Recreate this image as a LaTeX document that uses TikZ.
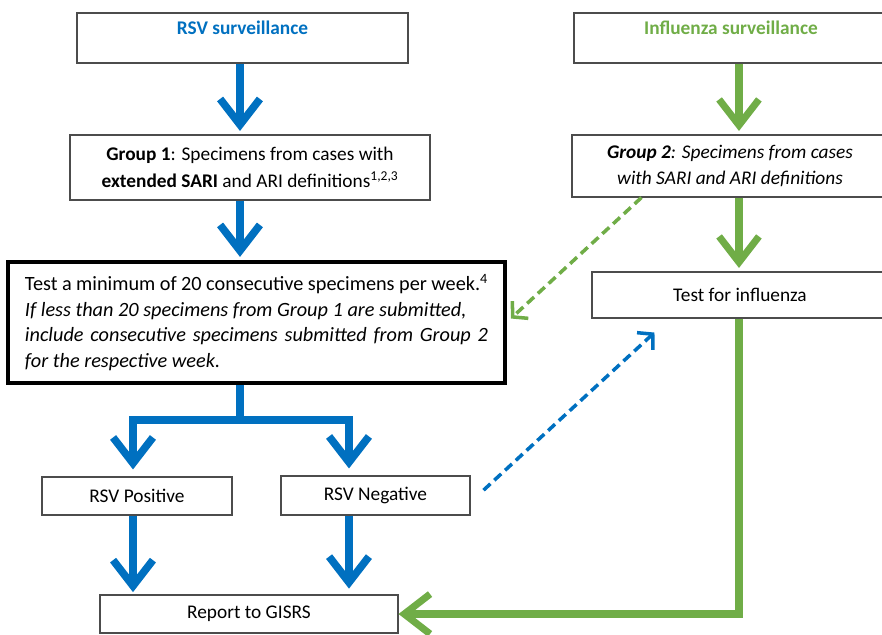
\documentclass[tikz,border=0pt]{standalone}
\usepackage{fontspec}
\setmainfont{Carlito}
\usetikzlibrary{arrows.meta}
\definecolor{rsvblue}{RGB}{0,112,192}
\definecolor{flugreen}{RGB}{112,173,71}
\newcommand{\boxfont}{\fontsize{16.5pt}{23pt}\selectfont}

\begin{document}
\begin{tikzpicture}[x=0.03cm, y=-0.03cm,
		box/.style={draw=black!70, line width=0.9pt, align=center, inner sep=0pt, font=\boxfont},
		bluearrow/.style={draw=rsvblue, line width=6.5pt, -{Straight Barb[length=22pt,width=34pt]}},
		blueline/.style={draw=rsvblue, line width=6.5pt},
		greenarrow/.style={draw=flugreen, line width=6pt, -{Straight Barb[length=22pt,width=34pt]}},
		bluedash/.style={draw=rsvblue, line width=3pt, dash pattern=on 8pt off 4.5pt, -{Straight Barb[length=9pt,width=20pt]}},
		greendash/.style={draw=flugreen, line width=3pt, dash pattern=on 8pt off 4.5pt, -{Straight Barb[length=9pt,width=20pt]}}]
			\useasboundingbox (0,0) rectangle (882,635);
			\node[box, minimum width=9.93cm, minimum height=1.5cm, text=rsvblue] (rsv) at (242.5,38) {\textbf{RSV surveillance}\\[-12pt] \strut};
			\node[box, minimum width=9.42cm, minimum height=1.5cm, text=flugreen] (flu) at (731,38) {\textbf{Influenza surveillance}\\[-12pt] \strut};
			\node[box, minimum width=10.8cm, minimum height=1.95cm] (grp1) at (250,167.5)
				{\textbf{Group 1}: Specimens from cases with\\ \textbf{extended SARI} and ARI definitions\textsuperscript{1,2,3}};
			\node[box, minimum width=9.48cm, minimum height=1.86cm, font=\boxfont\itshape] (grp2) at (730,166)
				{\textbf{Group 2}: Specimens from cases\\ with SARI and ARI definitions};
			\node[box, draw=black, line width=2.7pt, minimum width=14.91cm, minimum height=3.63cm,
				font=\fontsize{17.3pt}{22pt}\selectfont] (test) at (256.5,322.5)
				{\parbox{13.89cm}{Test a minimum of 20 consecutive specimens per week.\textsuperscript{4}\\
				\textit{If less than 20 specimens from Group 1 are submitted,}\\
				\makebox[\linewidth][s]{\itshape include consecutive specimens submitted from Group 2}\\
				\textit{for the respective week.}}};
			\node[box, minimum width=8.88cm, minimum height=1.38cm] (fluT) at (740,295) {Test for influenza};
			\node[box, minimum width=5.7cm, minimum height=1.14cm] (pos) at (137,496) {RSV Positive};
			\node[box, minimum width=5.67cm, minimum height=1.17cm] (neg) at (375.5,495.5) {RSV Negative};
			\node[box, minimum width=8.94cm, minimum height=1.14cm] (gisrs) at (249,614) {Report to GISRS};
			
			\coordinate (bx) at (240,0);
			\coordinate (bl) at (133,0);
			\coordinate (br) at (349,0);
			\coordinate (gx) at (739,0);
			\coordinate (split) at (240,420);
			
			\foreach \u/\v/\x/\s in {rsv/grp1/bx/3pt, grp1/test/bx/3pt, pos/gisrs/bl/2pt, neg/gisrs/br/5pt}  % straight down
			{	\draw[bluearrow, shorten >=\s] (\u.south -| \x) -- (\v.north -| \x);
			}
			\draw[blueline] (test.south -| bx) -- (split);
			\draw[bluearrow, shorten >=6pt] (split) -| (pos.north -| bl);
			\draw[bluearrow, shorten >=6pt] (split) -| (neg.north -| br);
			
			\foreach \u/\v in {flu/grp2, grp2/fluT}
			{	\draw[greenarrow, shorten >=3pt] (\u.south -| gx) -- (\v.north -| gx);
			}
			\draw[greenarrow] (fluT.south -| gx) |- (gisrs.east);
			
			\draw[greendash, shorten >=5pt] ([xshift=2.1cm]grp2.south west) -- (test.east);
			\draw[bluedash] ([xshift=0.39cm,yshift=0.16cm]neg.east) -- ([xshift=1.89cm,yshift=-0.42cm]fluT.south west);
		\end{tikzpicture}
\end{document}
